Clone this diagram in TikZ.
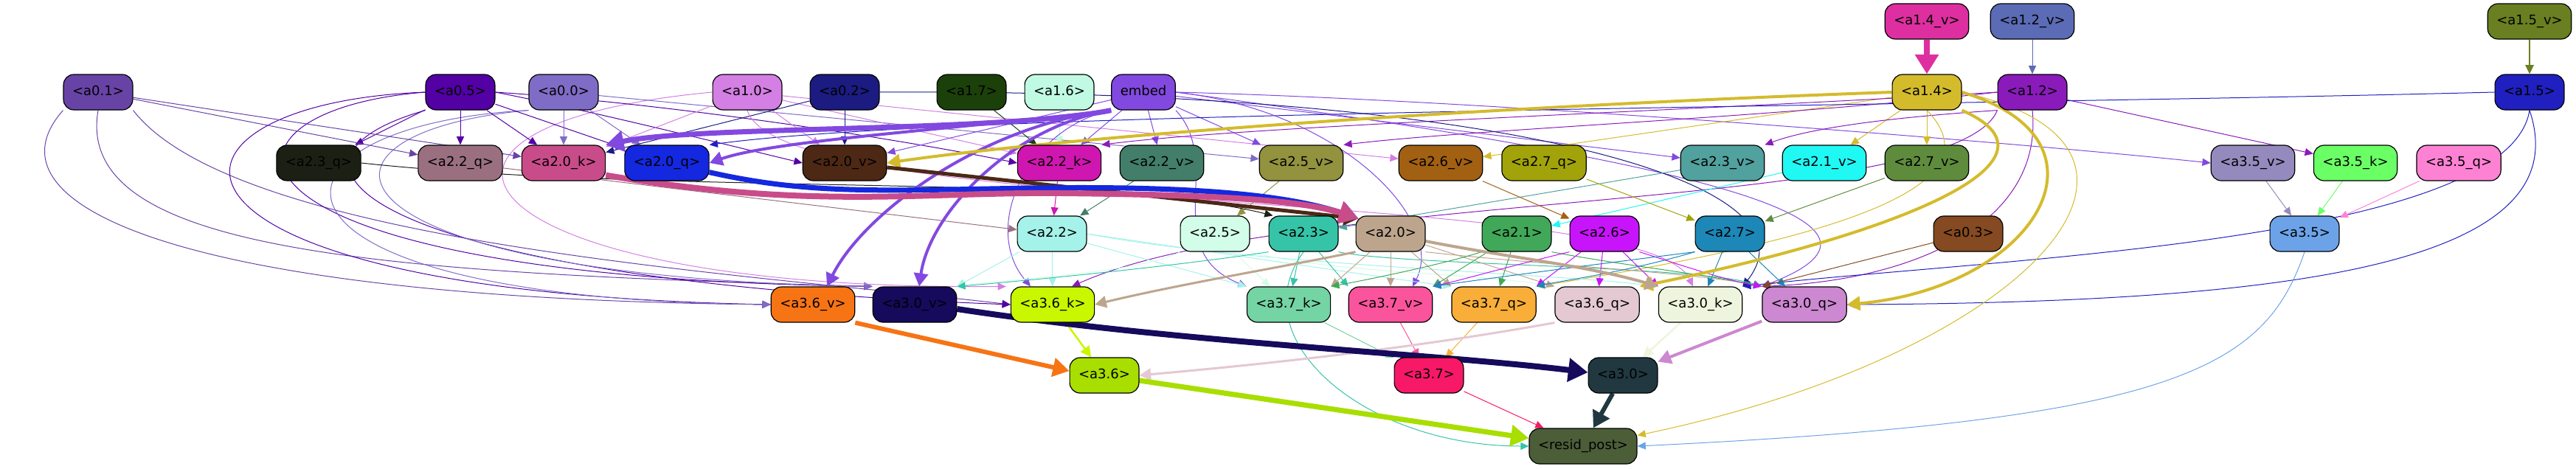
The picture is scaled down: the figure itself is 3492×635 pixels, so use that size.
\documentclass[tikz,border=0pt]{standalone}
\usepackage{fontspec}
\setmainfont{DejaVu Sans}
\usetikzlibrary{arrows.meta}
\pgfdeclarelayer{bg}
\pgfsetlayers{bg,main}
\definecolor{c14v}{HTML}{DD2FA0}\definecolor{c12v}{HTML}{5B6BB5}\definecolor{c15v}{HTML}{6A7F21}
\definecolor{c01}{HTML}{6843A6}\definecolor{c05}{HTML}{5300A5}\definecolor{c00}{HTML}{7F6CC6}
\definecolor{c10}{HTML}{D47FE3}\definecolor{c02}{HTML}{1B1B82}\definecolor{c17}{HTML}{1C400A}
\definecolor{c16}{HTML}{C0FAE3}\definecolor{cemb}{HTML}{8249E0}\definecolor{c14}{HTML}{D4BB2C}
\definecolor{c12}{HTML}{8A1BBA}\definecolor{c15}{HTML}{2020C0}\definecolor{c23q}{HTML}{1C2014}
\definecolor{c22q}{HTML}{9A7080}\definecolor{c20k}{HTML}{C94C8A}\definecolor{c20q}{HTML}{1428E0}
\definecolor{c20v}{HTML}{4C2815}\definecolor{c22k}{HTML}{D016B0}\definecolor{c22v}{HTML}{427E69}
\definecolor{c25v}{HTML}{92923F}\definecolor{c26v}{HTML}{A26012}\definecolor{c27q}{HTML}{A2A30A}
\definecolor{c23v}{HTML}{51A19E}\definecolor{c21v}{HTML}{20F8F4}\definecolor{c27v}{HTML}{5E8C3C}
\definecolor{c35v}{HTML}{958ABD}\definecolor{c35k}{HTML}{6BFF66}\definecolor{c35q}{HTML}{FD82D4}
\definecolor{c22}{HTML}{A5F2EA}\definecolor{c25}{HTML}{D2FDE8}\definecolor{c23}{HTML}{35C4A7}
\definecolor{c20}{HTML}{BDA58D}\definecolor{c21}{HTML}{40A858}\definecolor{c26}{HTML}{C814FA}
\definecolor{c27}{HTML}{1D87B8}\definecolor{c03}{HTML}{854A21}\definecolor{c35}{HTML}{6CA3E8}
\definecolor{c36v}{HTML}{F77415}\definecolor{c30v}{HTML}{150A5C}\definecolor{c36k}{HTML}{C8F700}
\definecolor{c37k}{HTML}{74D4A4}\definecolor{c37v}{HTML}{FA549C}\definecolor{c37q}{HTML}{F8AE38}
\definecolor{c36q}{HTML}{E4C8D2}\definecolor{c30k}{HTML}{EEF5DE}\definecolor{c30q}{HTML}{CC88D0}
\definecolor{c36}{HTML}{A8DE00}\definecolor{c37}{HTML}{F81868}\definecolor{c30}{HTML}{213840}
\definecolor{cres}{HTML}{4C5E38}
\tikzset{
  nd/.style={draw=black, line width=1.2pt, rounded corners=14pt, minimum height=48pt,
    inner xsep=12pt, inner ysep=0pt, text height=13.5pt, text depth=4pt,
    font=\fontsize{18pt}{21pt}\selectfont, text=black},
  e/.style={draw=#1, line width=1pt, -{Triangle[length=9pt 2.2,width=7pt 3]}}
}
\begin{document}
\begin{tikzpicture}[x=1pt,y=-1pt]
\useasboundingbox (0,0) rectangle (3492,635);
% row 0
\node[nd,fill=c14v] (a14v) at (2612,29) {<a1.4\_v>};
\node[nd,fill=c12v] (a12v) at (2755,29) {<a1.2\_v>};
\node[nd,fill=c15v] (a15v) at (3429,29) {<a1.5\_v>};
% row 1
\node[nd,fill=c01] (a01) at (133,125) {<a0.1>};
\node[nd,fill=c05] (a05) at (624,125) {<a0.5>};
\node[nd,fill=c00] (a00) at (764,125) {<a0.0>};
\node[nd,fill=c10] (a10) at (1013,125) {<a1.0>};
\node[nd,fill=c02] (a02) at (1145,125) {<a0.2>};
\node[nd,fill=c17] (a17) at (1317,125) {<a1.7>};
\node[nd,fill=c16] (a16) at (1436,125) {<a1.6>};
\node[nd,fill=cemb] (emb) at (1550,125) {embed};
\node[nd,fill=c14] (a14) at (2612,125) {<a1.4>};
\node[nd,fill=c12] (a12) at (2755,125) {<a1.2>};
\node[nd,fill=c15] (a15) at (3429,125) {<a1.5>};
% row 2
\node[nd,fill=c23q] (a23q) at (432,221) {<a2.3\_q>};
\node[nd,fill=c22q] (a22q) at (624,221) {<a2.2\_q>};
\node[nd,fill=c20k] (a20k) at (764,221) {<a2.0\_k>};
\node[nd,fill=c20q] (a20q) at (904,221) {<a2.0\_q>};
\node[nd,fill=c20v] (a20v) at (1145,221) {<a2.0\_v>};
\node[nd,fill=c22k] (a22k) at (1436,221) {<a2.2\_k>};
\node[nd,fill=c22v] (a22v) at (1575,221) {<a2.2\_v>};
\node[nd,fill=c25v] (a25v) at (1764,221) {<a2.5\_v>};
\node[nd,fill=c26v] (a26v) at (1953,221) {<a2.6\_v>};
\node[nd,fill=c27q] (a27q) at (2093,221) {<a2.7\_q>};
\node[nd,fill=c23v] (a23v) at (2335,221) {<a2.3\_v>};
\node[nd,fill=c21v] (a21v) at (2473,221) {<a2.1\_v>};
\node[nd,fill=c27v] (a27v) at (2612,221) {<a2.7\_v>};
\node[nd,fill=c35v] (a35v) at (3054,221) {<a3.5\_v>};
\node[nd,fill=c35k] (a35k) at (3193,221) {<a3.5\_k>};
\node[nd,fill=c35q] (a35q) at (3333,221) {<a3.5\_q>};
% row 3
\node[nd,fill=c22] (a22) at (1426,317) {<a2.2>};
\node[nd,fill=c25] (a25) at (1647,317) {<a2.5>};
\node[nd,fill=c23] (a23) at (1767,317) {<a2.3>};
\node[nd,fill=c20] (a20) at (1885,317) {<a2.0>};
\node[nd,fill=c21] (a21) at (2056,317) {<a2.1>};
\node[nd,fill=c26] (a26) at (2175,317) {<a2.6>};
\node[nd,fill=c27] (a27) at (2345,317) {<a2.7>};
\node[nd,fill=c03] (a03) at (2668,317) {<a0.3>};
\node[nd,fill=c35] (a35) at (3124,317) {<a3.5>};
% row 4
\node[nd,fill=c36v] (a36v) at (1102,413) {<a3.6\_v>};
\node[nd,fill=c30v] (a30v) at (1240,413) {<a3.0\_v>};
\node[nd,fill=c36k] (a36k) at (1427,413) {<a3.6\_k>};
\node[nd,fill=c37k] (a37k) at (1747,413) {<a3.7\_k>};
\node[nd,fill=c37v] (a37v) at (1885,413) {<a3.7\_v>};
\node[nd,fill=c37q] (a37q) at (2025,413) {<a3.7\_q>};
\node[nd,fill=c36q] (a36q) at (2165,413) {<a3.6\_q>};
\node[nd,fill=c30k] (a30k) at (2305,413) {<a3.0\_k>};
\node[nd,fill=c30q] (a30q) at (2446,413) {<a3.0\_q>};
% row 5
\node[nd,fill=c36] (a36) at (1497,509) {<a3.6>};
\node[nd,fill=c37] (a37) at (1937,509) {<a3.7>};
\node[nd,fill=c30] (a30) at (2200,509) {<a3.0>};
% row 6
\node[nd,fill=cres] (res) at (2146,605) {<resid\_post>};

\begin{pgfonlayer}{bg}
% row0 -> row1
\draw[e=c14v, line width=8pt] (a14v) -- (a14);
\draw[e=c12v] (a12v) -- (a12);
\draw[e=c15v, line width=1.5pt] (a15v) -- (a15);
% left curves to row 4
\draw[e=c01] (a01.south west) .. controls (-30,280) and (250,405) .. (a36v.west);
\draw[e=c01] (a01.south) .. controls (100,340) and (500,370) .. (a30v.north west);
\draw[e=c01] (a01.south east) .. controls (320,330) and (1000,370) .. (a36k.west);
\draw[e=c05] (a05.west) .. controls (180,140) and (150,395) .. (a36v.west);
\draw[e=c05] (a05.west) .. controls (260,150) and (250,375) .. (a30v.north west);
\draw[e=c05] (a05.south west) .. controls (330,220) and (500,380) .. (a36k.west);
\draw[e=c00] (a00.south west) .. controls (330,170) and (300,405) .. (a36v.west);
\draw[e=c00] (a00.south west) .. controls (380,180) and (420,375) .. (a30v.north west);
\draw[e=c10] (a10.west) .. controls (480,170) and (620,395) .. ([xshift=-6pt]a36k.north west);
% row1 -> row2
\draw[e=c05] (a05) -- (a23q);
\draw[e=c05] (a05) -- (a22q);
\draw[e=c05] (a05) -- (a20k);
\draw[e=c05] (a05) -- (a20q);
\draw[e=c05] (a05.east) .. controls (800,150) and (1000,200) .. (a20v.west);
\draw[e=c05] (a05.east) .. controls (900,140) and (1200,185) .. (a22k.west);
\draw[e=c01] (a01) -- (a22q);
\draw[e=c01] (a01) -- (a20k);
\draw[e=c00] (a00) -- (a20k);
\draw[e=c00] (a00) -- (a20q);
\draw[e=c00] (a00) -- (a25v);
\draw[e=c10] (a10) -- (a20v);
\draw[e=c10] (a10) -- (a20k);
\draw[e=c10] (a10) -- (a22k);
\draw[e=c10] (a10) -- (a26v);
\draw[e=c02] (a02) -- (a20v);
\draw[e=c02] (a02) -- (a20k);
\draw[e=c17] (a17) -- (a22k);
\draw[e=c16] (a16) -- (a22k);
\draw[e=cemb] (emb) -- (a22k);
\draw[e=cemb] (emb) -- (a22v);
\draw[e=cemb] (emb) -- (a25v);
\draw[e=cemb] (emb) -- (a20v);
\draw[e=cemb] (emb) -- (a23v);
\draw[e=cemb] (emb.east) .. controls (2000,135) and (2700,190) .. (a35v.west);
\draw[e=c14] (a14) -- (a26v);
\draw[e=c14] (a14) -- (a21v);
\draw[e=c14] (a14) -- (a27v);
\draw[e=c12] (a12.west) .. controls (2400,160) and (2000,175) .. (a25v.north east);
\draw[e=c12] (a12.south west) .. controls (2550,160) and (2450,175) .. (a23v.north east);
\draw[e=c12] (a12.west) .. controls (2300,150) and (1700,170) .. (a22k.north east);
\draw[e=c12] (a12) -- (a35k);
\draw[e=c15] (a15.west) .. controls (2600,145) and (1300,150) .. (a20q.north east);
% long curves to row 4
\draw[e=cemb] (emb.south west) .. controls (1390,175) and (1330,310) .. ([xshift=-30pt]a36k.north);
\draw[e=cemb] (emb.south east) .. controls (1660,220) and (1570,340) .. (a37k.north west);
\draw[e=cemb] (emb.east) .. controls (1820,150) and (1960,300) .. ([xshift=30pt]a37v.north);
\draw[e=cemb] (emb.east) .. controls (2300,220) and (2620,300) .. (a30q.north west);
\draw[e=c12] (a12.south west) .. controls (2650,290) and (1750,255) .. ([xshift=26pt]a36k.north);
\draw[e=c12] (a12.south) .. controls (2770,300) and (2600,380) .. (a30q.north west);
\draw[e=c15] (a15.south) .. controls (3400,330) and (2700,350) .. (a30k.north east);
\draw[e=c15] (a15.south) .. controls (3500,360) and (3100,410) .. (a30q.east);
\draw[e=c10] (a10.south) .. controls (1060,300) and (2230,250) .. ([xshift=-10pt]a30k.north);
\draw[e=c02] (a02.east) .. controls (2000,120) and (2480,240) .. (a30k.north east);
\draw[e=c14] (a14.south) .. controls (2720,260) and (2450,330) .. (a37q.north east);
\draw[e=c14] (a14.east) .. controls (3000,200) and (2750,480) .. ([yshift=-10pt]res.north east);
% row2 -> row3
\draw[e=c22k] (a22k) -- (a22);
\draw[e=c22v] (a22v) -- (a22);
\draw[e=c22q] (a22q) -- (a22);
\draw[e=c25v] (a25v) -- (a25);
\draw[e=c23q] (a23q.east) .. controls (900,265) and (1500,235) .. ([xshift=6pt]a23.north west);
\draw[e=c23v] (a23v) -- (a23);
\draw[e=c21v] (a21v) -- (a21);
\draw[e=c26v] (a26v) -- (a26);
\draw[e=c27q] (a27q) -- (a27);
\draw[e=c27v] (a27v) -- (a27);
\draw[e=c35v] (a35v) -- (a35);
\draw[e=c35k] (a35k) -- (a35);
\draw[e=c35q] (a35q) -- (a35);
% row3 -> row4
\draw[e=c22] (a22) -- (a36k);
\draw[e=c22] (a22) -- (a37k.north west);
\draw[e=c22] (a22.east) .. controls (1700,350) and (1900,380) .. (a37q.north west);
\draw[e=c22] (a22.east) .. controls (1700,360) and (2100,370) .. (a30k.north west);
\draw[e=c22] (a22) -- (a30v.north east);
\draw[e=c25] (a25) -- (a37k);
\draw[e=c25] (a25.south west) .. controls (1550,370) and (1350,380) .. (a30v.north east);
\draw[e=c25] (a25.south east) .. controls (1800,370) and (2000,370) .. (a36q.north west);
\draw[e=c23] (a23) -- (a37k);
\draw[e=c23] (a23) -- (a37v.north west);
\draw[e=c23] (a23.south west) .. controls (1600,360) and (1400,380) .. (a30v.north east);
\draw[e=c23] (a23.south east) .. controls (1900,360) and (2300,360) .. (a30q.north west);
\draw[e=c23] (a23.south) .. controls (1680,460) and (1850,605) .. (res.west);
\draw[e=c20] (a20) -- (a37v);
\draw[e=c20] (a20) -- (a37k.north east);
\draw[e=c20] (a20) -- (a37q.north west);
\draw[e=c20] (a20) -- (a36q.north west);
\draw[e=c20] (a20.south east) .. controls (2100,360) and (2300,370) .. (a30q.north west);
\draw[e=c21] (a21) -- (a37q);
\draw[e=c21] (a21) -- (a37v.north east);
\draw[e=c21] (a21.south west) .. controls (1950,360) and (1850,380) .. (a37k.north east);
\draw[e=c21] (a21.south east) .. controls (2200,360) and (2300,370) .. (a30q.north west);
\draw[e=c26] (a26) -- (a36q);
\draw[e=c26] (a26) -- (a37q.north east);
\draw[e=c26] (a26.south west) .. controls (2050,360) and (1980,380) .. (a37v.north east);
\draw[e=c26] (a26) -- (a30k.north west);
\draw[e=c26] (a26.south east) .. controls (2280,360) and (2340,380) .. (a30q.north west);
\draw[e=c27] (a27) -- (a30k);
\draw[e=c27] (a27) -- (a30q);
\draw[e=c27] (a27.south west) .. controls (2200,370) and (2120,380) .. (a37q.north east);
\draw[e=c27] (a27.south west) .. controls (2150,360) and (2000,380) .. (a37v.north east);
\draw[e=c03] (a03) -- (a30q.north west);
% row4 -> row5 (thin)
\draw[e=c37k] (a37k) -- (a37);
\draw[e=c37v] (a37v) -- (a37);
\draw[e=c37q] (a37q) -- (a37);
\draw[e=c37] (a37) -- (res);
\draw[e=c35] (a35.south) .. controls (3070,500) and (2950,570) .. (res.east);
% thick edges
\draw[e=cemb, line width=4pt] (emb.south west) .. controls (1330,170) and (1170,290) .. ([xshift=19pt]a36v.north);
\draw[e=cemb, line width=4pt] (emb.south west) .. controls (1370,172) and (1260,290) .. ([xshift=6pt]a30v.north);
\draw[e=cemb, line width=4pt] (emb.south west) .. controls (1300,175) and (1050,190) .. (a20q.east);
\draw[e=cemb, line width=7pt] (emb.south west) .. controls (1350,180) and (950,170) .. (a20k.north east);
\draw[e=c14, line width=4pt] (a14.west) .. controls (2000,145) and (1450,185) .. (a20v.east);
\draw[e=c14, line width=4pt] (a14.east) .. controls (2880,190) and (2760,390) .. (a30q.east);
\draw[e=c14, line width=4pt] (a14.south east) .. controls (2820,220) and (2560,320) .. (a36q.north east);
\draw[e=c20v, line width=5pt] ([yshift=-6pt]a20v.east) -- ([xshift=4pt,yshift=-4pt]a20.north west);
\draw[e=c20q, line width=7pt] ([yshift=12pt]a20q.south east) .. controls (1100,265) and (1200,258) .. (1400,255) .. controls (1600,252) and (1740,262) .. ([xshift=4pt,yshift=-4pt]a20.north west);
\draw[e=c20k, line width=8pt] ([yshift=8pt]a20k.south east) .. controls (1100,285) and (1250,260) .. (1440,262) .. controls (1630,264) and (1760,270) .. ([xshift=4pt,yshift=-4pt]a20.north west);
\draw[e=c20, line width=4pt] ([yshift=-10pt]a20.east) .. controls (2050,350) and (2150,360) .. (a30k.north west);
\draw[e=c20, line width=3pt] (a20.south west) .. controls (1750,360) and (1600,385) .. (a36k.east);
\draw[e=c36v, line width=6pt] (a36v.south east) -- ([yshift=6pt]a36.west);
\draw[e=c36k, line width=2.5pt] (a36k) -- (a36);
\draw[e=c36q, line width=3pt] (a36q.south west) .. controls (1900,475) and (1700,495) .. (a36.east);
\draw[e=c30v, line width=8pt] ([yshift=-6pt]a30v.east) .. controls (1600,465) and (1950,480) .. ([yshift=4pt]a30.west);
\draw[e=c30k, line width=2.5pt] (a30k) -- (a30);
\draw[e=c30q, line width=4pt] (a30q) -- (a30);
\draw[e=c36, line width=7pt] (a36) -- (res);
\draw[e=c30, line width=6pt] (a30) -- (res);
\end{pgfonlayer}
\end{tikzpicture}
\end{document}
